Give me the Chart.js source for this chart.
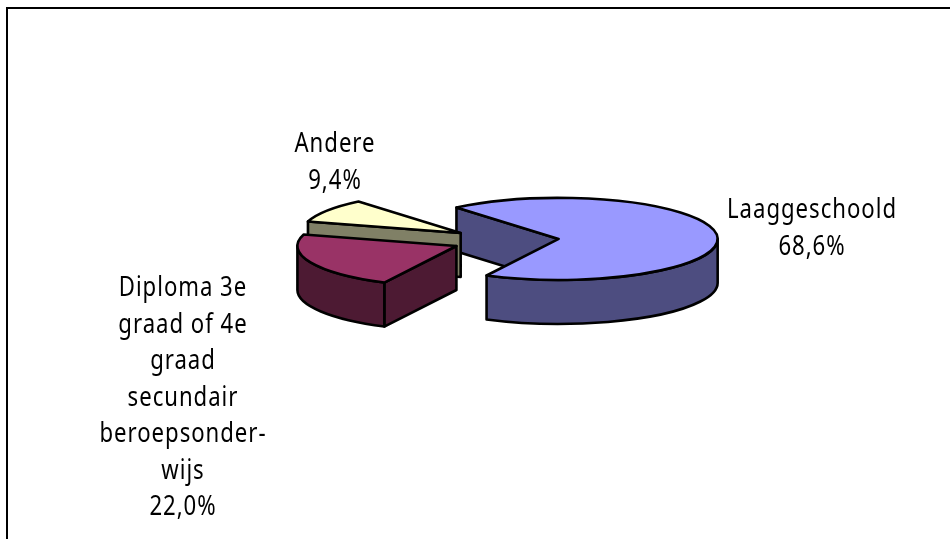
<!DOCTYPE html>
<html>
<head>
<meta charset="utf-8">
<style>
html,body{margin:0;padding:0;background:#fff;width:950px;height:539px;overflow:hidden}
#frame{position:absolute;left:6px;top:7px;width:944px;height:532px;border-left:2px solid #000;border-top:2px solid #000;box-sizing:border-box}
#wrap{position:absolute;left:0;top:0;width:950px;height:539px}
</style>
<script src="https://cdn.jsdelivr.net/npm/chart.js@4"></script>
</head>
<body>
<div id="frame"></div>
<div id="wrap"><canvas id="c" width="950" height="539"></canvas></div>
<script>
const categories = ["Laaggeschoold", "Diploma 3e graad of 4e graad secundair beroepsonderwijs", "Andere"];
const values = [68.6, 22.0, 9.4];
const percentLabels = ["68,6%", "22,0%", "9,4%"];
const labelLines = [
  ["Laaggeschoold"],
  ["Diploma 3e", "graad of 4e", "graad", "secundair", "beroepsonder-", "wijs"],
  ["Andere"]
];
const topColors = ["#9999FF", "#993366", "#FFFFCC"];
const wallColors = ["#4D4D80", "#4D1A33", "#808066"];
const paintOrder = [0, 2, 1];
const labelAnchors = [[812, 218], [183, 296], [335, 152]];
const lineSteps = [37, 36.5, 37];

const TILT = 0.258, DEPTH = 44, EXPLODE = 53.5;
const FONT = '27px "Noto Sans", sans-serif';
const TEXT_SQUEEZE = 0.82;

const pie3d = {
  id: "pie3d",
  beforeDatasetDraw(chart, args) {
    const ctx = chart.ctx;
    const arcs = chart.getDatasetMeta(args.index).data;
    ctx.save();
    ctx.lineWidth = 2.6;
    ctx.lineJoin = "round";
    ctx.strokeStyle = "#000";
    paintOrder.forEach(i => {
      const a = arcs[i];
      const s = a.startAngle, e = a.endAngle, r = a.outerRadius;
      const mid = (s + e) / 2;
      const cx = a.x + Math.cos(mid) * EXPLODE;
      const cy = a.y + Math.sin(mid) * EXPLODE * TILT;
      const pt = t => [cx + Math.cos(t) * r, cy + Math.sin(t) * r * TILT];
      // cut walls: only the ones that face the viewer
      [[s, Math.cos(s) < 0], [e, Math.cos(e) > 0]].forEach(([t, visible]) => {
        if (!visible) return;
        const p = pt(t);
        ctx.beginPath();
        ctx.moveTo(cx, cy);
        ctx.lineTo(p[0], p[1]);
        ctx.lineTo(p[0], p[1] + DEPTH);
        ctx.lineTo(cx, cy + DEPTH);
        ctx.closePath();
        ctx.fillStyle = wallColors[i];
        ctx.fill();
        ctx.stroke();
      });
      // outer wall on the front half of the ellipse
      for (let n = -1; n <= 1; n++) {
        const lo = Math.max(s, 2 * Math.PI * n);
        const hi = Math.min(e, 2 * Math.PI * n + Math.PI);
        if (hi <= lo) continue;
        ctx.beginPath();
        ctx.ellipse(cx, cy, r, r * TILT, 0, lo, hi);
        ctx.ellipse(cx, cy + DEPTH, r, r * TILT, 0, hi, lo, true);
        ctx.closePath();
        ctx.fillStyle = wallColors[i];
        ctx.fill();
        ctx.stroke();
      }
      // top face
      ctx.beginPath();
      ctx.moveTo(cx, cy);
      ctx.ellipse(cx, cy, r, r * TILT, 0, s, e);
      ctx.closePath();
      ctx.fillStyle = topColors[i];
      ctx.fill();
      ctx.stroke();
    });
    ctx.restore();
    return false;
  },
  afterDraw(chart) {
    const ctx = chart.ctx;
    ctx.save();
    ctx.font = FONT;
    ctx.letterSpacing = "1.2px";
    ctx.fillStyle = "#000";
    ctx.textAlign = "center";
    ctx.textBaseline = "alphabetic";
    categories.forEach((_, i) => {
      const lines = labelLines[i].concat(percentLabels[i]);
      lines.forEach((t, j) => {
        ctx.save();
        ctx.translate(labelAnchors[i][0], labelAnchors[i][1] + j * lineSteps[i]);
        ctx.scale(TEXT_SQUEEZE, 1);
        ctx.fillText(t, 0, 0);
        ctx.restore();
      });
    });
    ctx.restore();
  }
};

new Chart(document.getElementById("c"), {
  type: "pie",
  data: {
    labels: categories,
    datasets: [{ data: values, backgroundColor: topColors, borderWidth: 0 }]
  },
  options: {
    responsive: false,
    animation: false,
    rotation: -40,
    radius: 159,
    layout: { padding: { left: 61, bottom: 58 } },
    plugins: { legend: { display: false }, tooltip: { enabled: false }, title: { display: false } }
  },
  plugins: [pie3d]
});
</script>
</body>
</html>
